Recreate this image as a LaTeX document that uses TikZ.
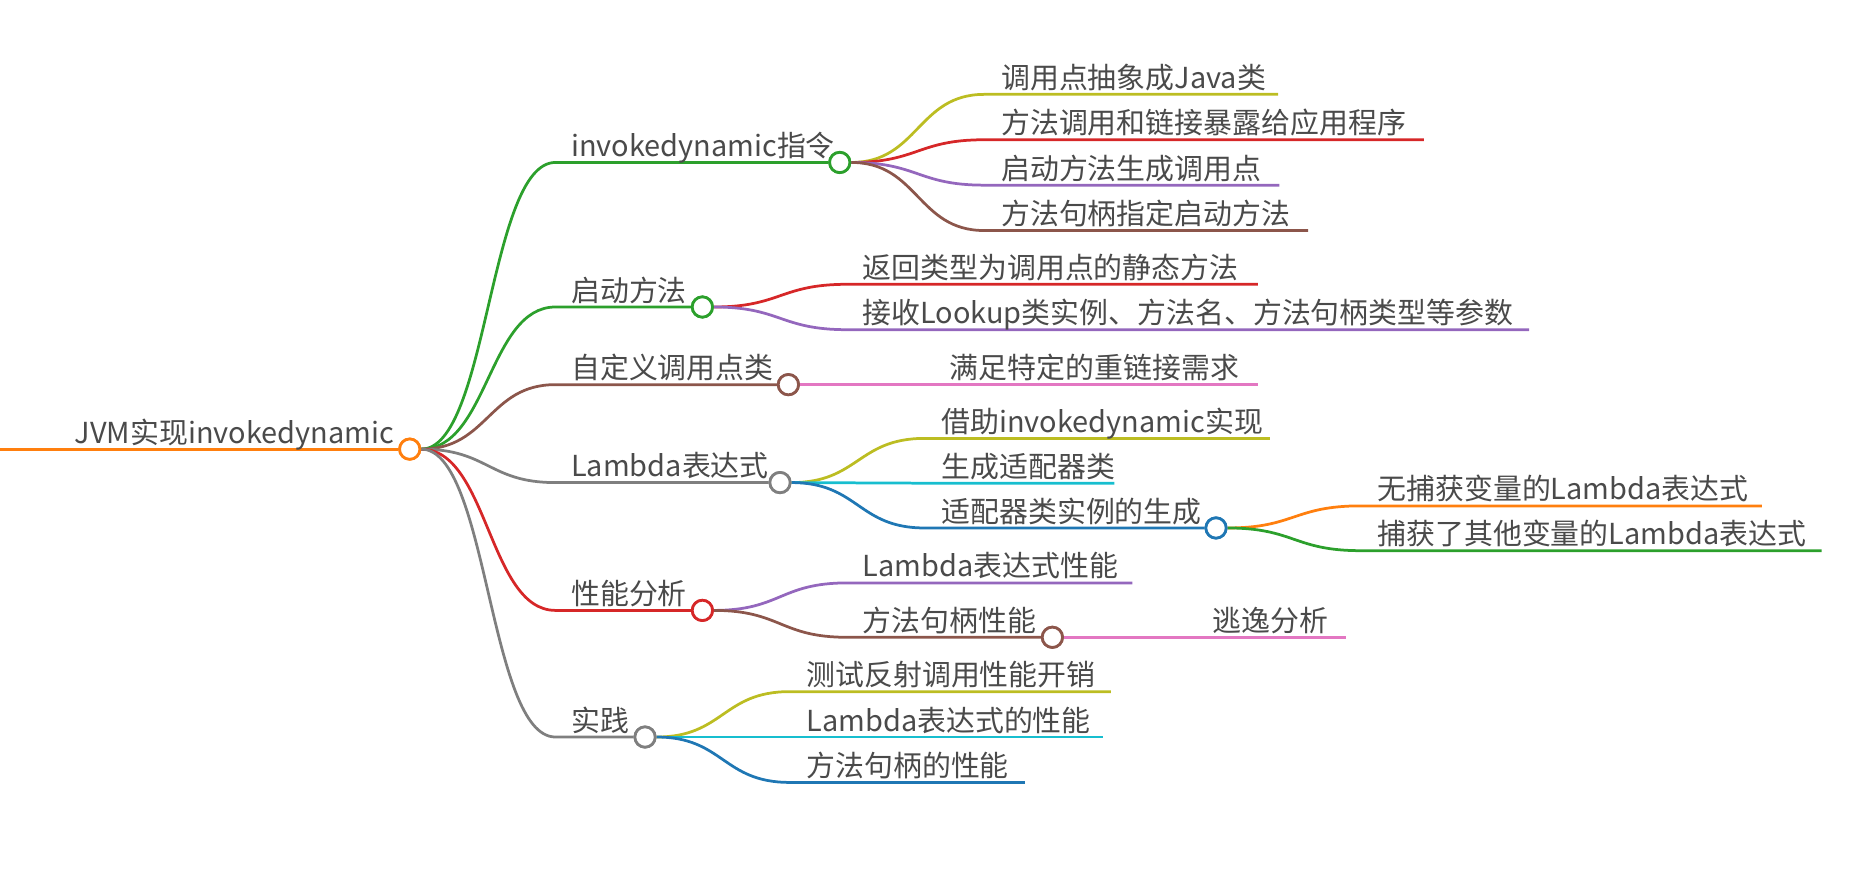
\documentclass[tikz,border=0pt]{standalone}
\usepackage{fontspec}
\setmainfont{Noto Sans CJK SC}
\definecolor{cOrange}{HTML}{FF7F0E}
\definecolor{cGreen}{HTML}{2CA02C}
\definecolor{cRed}{HTML}{D62728}
\definecolor{cPurple}{HTML}{9467BD}
\definecolor{cBrown}{HTML}{8C564B}
\definecolor{cPink}{HTML}{E377C2}
\definecolor{cGray}{HTML}{7F7F7F}
\definecolor{cOlive}{HTML}{BCBD22}
\definecolor{cCyan}{HTML}{17BECF}
\definecolor{cBlue}{HTML}{1F77B4}
\definecolor{txt}{HTML}{4A4A4A}
\begin{document}
\begin{tikzpicture}[x=1pt,y=-1pt,
  br/.style={line width=2.3pt},
  hub/.style={circle, draw=#1, fill=white, line width=2.3pt, minimum size=17pt, inner sep=0pt},
  lbl/.style={anchor=base west, inner sep=0pt, text=txt, font=\fontsize{24.2}{29}\selectfont},
  crv/.style={to path={.. controls +(56,0) and +(-56,0) .. (\tikztotarget)}}]
\useasboundingbox (0,0) rectangle (1568,732.5);
% ---------- hubs ----------
\node[hub=cOrange] (R) at (343,376) {};
\node[hub=cGreen]  (A) at (703,136) {};
\node[hub=cGreen]  (B) at (588,257) {};
\node[hub=cBrown]  (C) at (660,322) {};
\node[hub=cGray]   (D) at (653,404) {};
\node[hub=cRed]    (E) at (588,511) {};
\node[hub=cGray]   (F) at (540,617) {};
\node[hub=cBlue]   (G) at (1018,442) {};
\node[hub=cBrown]  (H) at (881,533.5) {};
% ---------- coordinates ----------
\coordinate (r0) at (0,376);
\coordinate (kA) at (465,136);
\coordinate (kB) at (465,257);
\coordinate (kC) at (465,322);
\coordinate (kD) at (465,404);
\coordinate (kE) at (465,511);
\coordinate (kF) at (465,617);
\coordinate (kA1) at (824,79)    ; \coordinate (eA1) at (1070,79);
\coordinate (kA2) at (824,117)   ; \coordinate (eA2) at (1192,117);
\coordinate (kA3) at (824,155)   ; \coordinate (eA3) at (1071,155);
\coordinate (kA4) at (824,193)   ; \coordinate (eA4) at (1095,193);
\coordinate (kB1) at (709,238)   ; \coordinate (eB1) at (1053,238);
\coordinate (kB2) at (709,276)   ; \coordinate (eB2) at (1280,276);
\coordinate (kC1) at (781,322)   ; \coordinate (eC1) at (1053,322);
\coordinate (kD1) at (774,367)   ; \coordinate (eD1) at (1063,367);
\coordinate (kD2) at (774,404.5) ; \coordinate (eD2) at (933,404.5);
\coordinate (kD3) at (774,442);
\coordinate (kG1) at (1139,423.5); \coordinate (eG1) at (1475,423.5);
\coordinate (kG2) at (1139,461)  ; \coordinate (eG2) at (1525,461);
\coordinate (kE1) at (709,488)   ; \coordinate (eE1) at (948,488);
\coordinate (kE2) at (709,533.5);
\coordinate (kH1) at (1002,533.5); \coordinate (eH1) at (1127,533.5);
\coordinate (kF1) at (661,579)   ; \coordinate (eF1) at (930,579);
\coordinate (kF2) at (661,617)   ; \coordinate (eF2) at (923,617);
\coordinate (kF3) at (661,655)   ; \coordinate (eF3) at (858,655);
% ---------- connectors ----------
\draw[br,cOrange] (r0) -- (R.west);
\draw[br,cGreen] (R.east) to[crv] (kA) -- (A.west);
\draw[br,cGreen] (R.east) to[crv] (kB) -- (B.west);
\draw[br,cBrown] (R.east) to[crv] (kC) -- (C.west);
\draw[br,cGray]  (R.east) to[crv] (kD) -- (D.west);
\draw[br,cRed]   (R.east) to[crv] (kE) -- (E.west);
\draw[br,cGray]  (R.east) to[crv] (kF) -- (F.west);
\draw[br,cOlive]  (A.east) to[crv] (kA1) -- (eA1);
\draw[br,cRed]    (A.east) to[crv] (kA2) -- (eA2);
\draw[br,cPurple] (A.east) to[crv] (kA3) -- (eA3);
\draw[br,cBrown]  (A.east) to[crv] (kA4) -- (eA4);
\draw[br,cRed]    (B.east) to[crv] (kB1) -- (eB1);
\draw[br,cPurple] (B.east) to[crv] (kB2) -- (eB2);
\draw[br,cPink]   (C.east) -- (kC1) -- (eC1);
\draw[br,cOlive]  (D.east) to[crv] (kD1) -- (eD1);
\draw[br,cCyan]   (D.east) -- (kD2) -- (eD2);
\draw[br,cBlue]   (D.east) to[crv] (kD3) -- (G.west);
\draw[br,cOrange] (G.east) to[crv] (kG1) -- (eG1);
\draw[br,cGreen]  (G.east) to[crv] (kG2) -- (eG2);
\draw[br,cPurple] (E.east) to[crv] (kE1) -- (eE1);
\draw[br,cBrown]  (E.east) to[crv] (kE2) -- (H.west);
\draw[br,cPink]   (H.east) -- (kH1) -- (eH1);
\draw[br,cOlive]  (F.east) to[crv] (kF1) -- (eF1);
\draw[br,cCyan]   (F.east) -- (kF2) -- (eF2);
\draw[br,cBlue]   (F.east) to[crv] (kF3) -- (eF3);
% redraw hubs on top
\foreach \n/\c in {R/cOrange,A/cGreen,B/cGreen,C/cBrown,D/cGray,E/cRed,F/cGray,G/cBlue,H/cBrown}
  \node[hub=\c] at (\n) {};
% ---------- labels ----------
\node[lbl,anchor=base east] (tR) at (330,371) {JVM实现invokedynamic};
\node[lbl] (tA) at (478,131) {invokedynamic指令};
\node[lbl] (tB) at (478,252) {启动方法};
\node[lbl] (tC) at (478,317) {自定义调用点类};
\node[lbl] (tD) at (478,399) {Lambda表达式};
\node[lbl] (tE) at (478,506) {性能分析};
\node[lbl] (tF) at (478,612) {实践};
\node[lbl] (tA1) at (838,74)  {调用点抽象成Java类};
\node[lbl] (tA2) at (838,112) {方法调用和链接暴露给应用程序};
\node[lbl] (tA3) at (838,150) {启动方法生成调用点};
\node[lbl] (tA4) at (838,188) {方法句柄指定启动方法};
\node[lbl] (tB1) at (722,233) {返回类型为调用点的静态方法};
\node[lbl] (tB2) at (722,271) {接收Lookup类实例、方法名、方法句柄类型等参数};
\node[lbl] (tC1) at (795,317) {满足特定的重链接需求};
\node[lbl] (tD1) at (788,362) {借助invokedynamic实现};
\node[lbl] (tD2) at (788,399.5) {生成适配器类};
\node[lbl] (tD3) at (788,437) {适配器类实例的生成};
\node[lbl] (tG1) at (1153,418.5) {无捕获变量的Lambda表达式};
\node[lbl] (tG2) at (1153,456) {捕获了其他变量的Lambda表达式};
\node[lbl] (tE1) at (722,483) {Lambda表达式性能};
\node[lbl] (tE2) at (722,528.5) {方法句柄性能};
\node[lbl] (tH1) at (1015,528.5) {逃逸分析};
\node[lbl] (tF1) at (675,574) {测试反射调用性能开销};
\node[lbl] (tF2) at (675,612) {Lambda表达式的性能};
\node[lbl] (tF3) at (675,650) {方法句柄的性能};
\end{tikzpicture}
\end{document}
